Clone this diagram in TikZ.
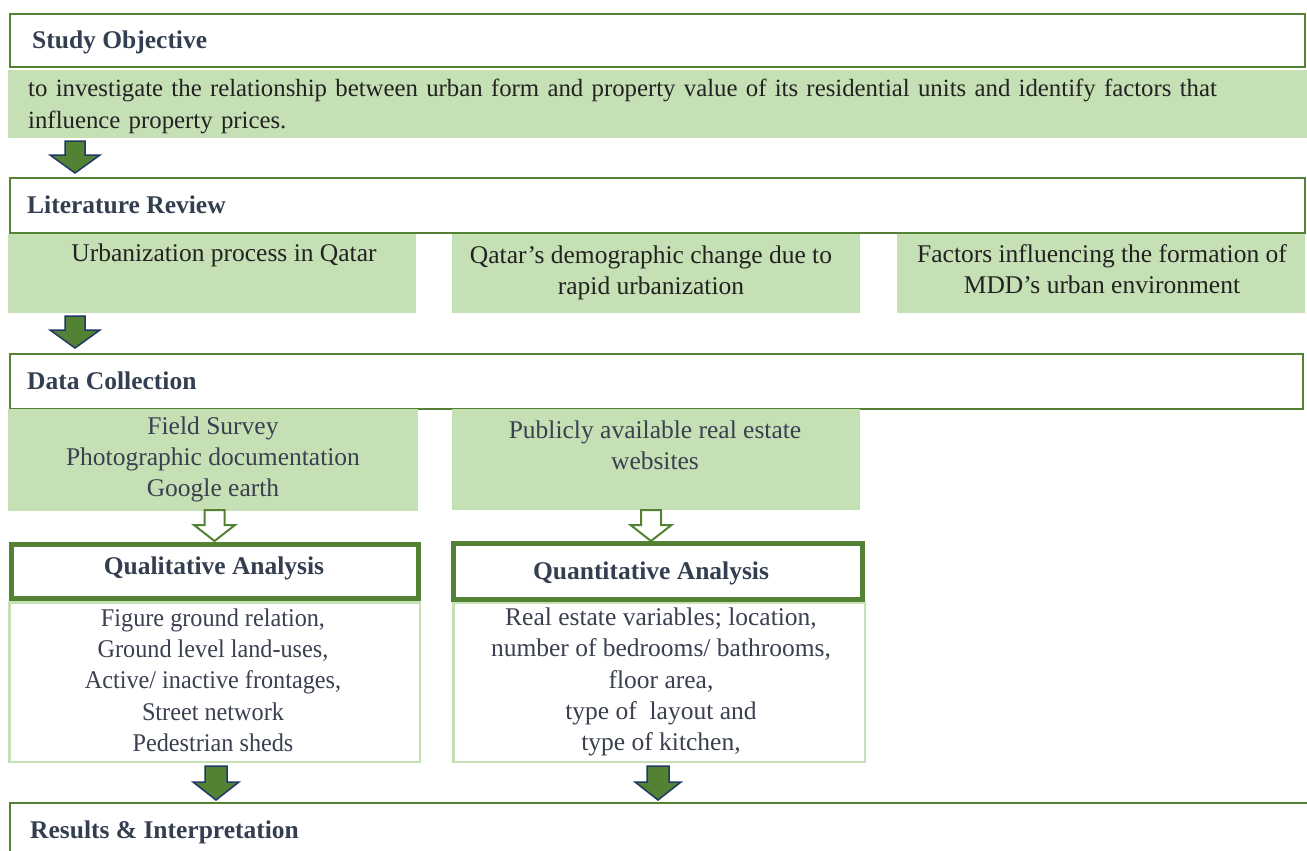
\documentclass[tikz,border=0pt]{standalone}
\usepackage{fontspec}
\setmainfont{Liberation Serif}
\newfontfamily\narrowserif[FakeStretch=0.95]{Liberation Serif}
\definecolor{dgreen}{HTML}{548235}
\definecolor{lgreen}{HTML}{C5E0B4}
\definecolor{navy}{HTML}{203864}
\definecolor{headtxt}{HTML}{333F50}
\definecolor{bodytxt}{HTML}{3A4050}
\definecolor{objtxt}{HTML}{222222}
\tikzset{
  headbox/.style={draw=dgreen, line width=2pt, fill=white, inner sep=0pt, anchor=north west},
  thickbox/.style={draw=dgreen, line width=5pt, fill=white, inner sep=0pt, anchor=north west},
  listbox/.style={draw=lgreen, line width=2.5pt, fill=white, inner sep=0pt, anchor=north west},
  greenbox/.style={fill=lgreen, inner sep=0pt, anchor=north west},
  headtext/.style={font=\bfseries\fontsize{25.5}{31}\selectfont, text=headtxt, anchor=west, inner sep=0pt},
  bodytext/.style={font=\fontsize{25.5}{31}\selectfont, text=bodytxt, align=center, inner sep=0pt},
  listtext/.style={font=\fontsize{25.5}{31.3}\selectfont, text=bodytxt, align=center, inner sep=0pt},
  solidarrow/.style={fill=dgreen, draw=navy, line width=1.5pt, line join=miter},
  hollowarrow/.style={fill=white, draw=dgreen, line width=2pt, line join=miter}
}
% #1 style, #2 centre x, #3 top y, #4 head start y, #5 tip y, #6 shaft half width, #7 head half width
\newcommand\blockarr[7]{\draw[#1] (#2-#6,#3) -- (#2+#6,#3) -- (#2+#6,#4) -- (#2+#7,#4) -- (#2,#5) -- (#2-#7,#4) -- (#2-#6,#4) -- cycle;}
\begin{document}
\begin{tikzpicture}[x=1pt,y=-1pt]
\useasboundingbox (0,0) rectangle (1307,851);
\fill[white] (0,0) rectangle (1307,851);

% Study objective
\node[headbox, minimum width=1295pt, minimum height=53pt] (so) at (9,13) {};
\node[headtext] (sot) at (32,42) {Study Objective};
\node[greenbox, minimum width=1299pt, minimum height=68pt] (obj) at (8,70) {};
\node[font=\fontsize{24.8}{32}\selectfont, text=objtxt, align=left, anchor=west, inner sep=0pt, text width=1270pt] (objt) at (28,106)
  {to investigate the relationship between urban form and property value of its residential units and identify factors that\\influence property prices.};

\blockarr{solidarrow}{75}{141}{155}{173}{10}{25}

% Literature review
\node[headbox, minimum width=1295pt, minimum height=55pt] (lr) at (9,177) {};
\node[headtext] (lrt) at (27,205) {Literature Review};
\node[greenbox, minimum width=408pt, minimum height=79pt] (lr1) at (8,234) {};
\node[greenbox, minimum width=408pt, minimum height=79pt] (lr2) at (452,234) {};
\node[greenbox, minimum width=408pt, minimum height=79pt] (lr3) at (897,234) {};
\node[bodytext, text=objtxt] (lr1t) at (224,255) {Urbanization process in Qatar};
\node[bodytext, text=objtxt] (lr2t) at (651,272.5) {Qatar’s demographic change due to\\rapid urbanization};
\node[bodytext, text=objtxt] (lr3t) at (1102,269.5) {Factors influencing the formation of\\MDD’s urban environment};

\blockarr{solidarrow}{75}{316}{330}{348}{10}{25}

% Data collection
\node[headbox, minimum width=1293pt, minimum height=55pt] (dc) at (9,353) {};
\node[headtext] (dct) at (27,381) {Data Collection};
\node[greenbox, minimum width=410pt, minimum height=102pt] (dc1) at (8,409) {};
\node[greenbox, minimum width=408pt, minimum height=101pt] (dc2) at (452,409) {};
\node[bodytext] (dc1t) at (213,459) {Field Survey\\Photographic documentation\\Google earth};
\node[bodytext] (dc2t) at (655,445.5) {Publicly available real estate\\websites};

\blockarr{hollowarrow}{214.5}{510}{525}{541}{10}{20.5}
\blockarr{hollowarrow}{651}{510}{525}{541}{10}{20.5}

% Analyses
\node[listbox, minimum width=410.5pt, minimum height=159.5pt] (ql) at (8,601) {};
\node[listbox, minimum width=411.5pt, minimum height=159.5pt] (qn) at (452,601) {};
\node[thickbox, minimum width=407pt, minimum height=54pt] (qlh) at (9,542) {};
\node[thickbox, minimum width=409pt, minimum height=56pt] (qnh) at (451,541) {};
\node[headtext, anchor=center] (qlht) at (214,568) {Qualitative Analysis};
\node[headtext, anchor=center] (qnht) at (651,573) {Quantitative Analysis};
\node[listtext, font=\narrowserif\fontsize{25.5}{31.3}\selectfont] (qlt) at (213,680) {Figure ground relation,\\Ground level land-uses,\\Active/ inactive frontages,\\Street network\\Pedestrian sheds};
\node[listtext] (qnt) at (661,682) {Real estate variables; location,\\number of bedrooms/ bathrooms,\\floor area,\\type of\ \ layout and\\type of kitchen,};

\blockarr{solidarrow}{216}{766}{782}{800}{11}{23}
\blockarr{solidarrow}{658}{766}{782}{800}{11}{23}

% Results
\node[headbox, minimum width=1300pt, minimum height=60pt] (ri) at (9,802) {};
\node[headtext] (rit) at (30,832) {Results \& Interpretation};
\end{tikzpicture}
\end{document}
